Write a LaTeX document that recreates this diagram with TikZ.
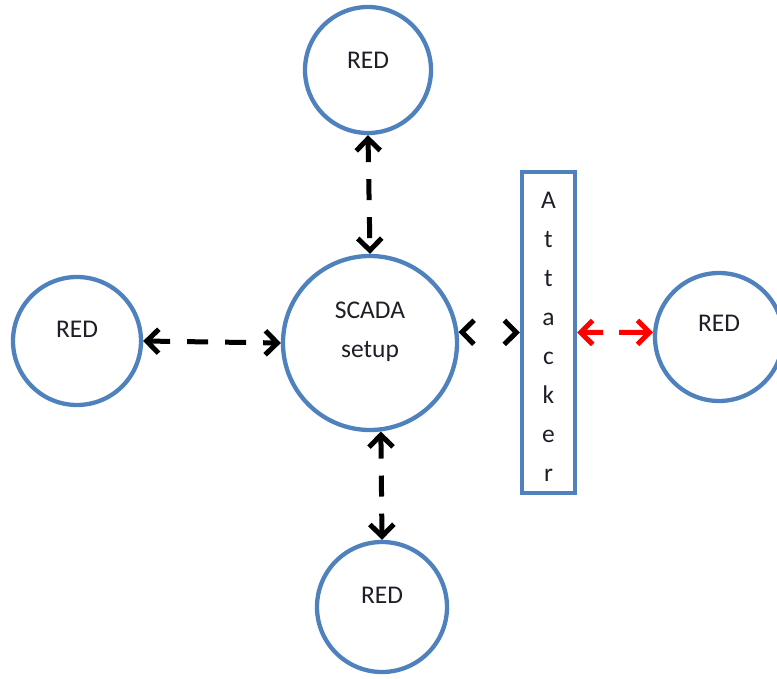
\documentclass[tikz,border=0pt]{standalone}
\usepackage{fontspec}
\setmainfont{Carlito}
\usetikzlibrary{arrows.meta}
\definecolor{shapeblue}{RGB}{79,129,189}
\definecolor{inktext}{RGB}{30,30,40}
\tikzset{
  ring/.style={circle, draw=shapeblue, line width=4.3pt, inner sep=0pt, minimum size=#1},
  boxshape/.style={rectangle, draw=shapeblue, line width=4.3pt, inner sep=0pt,
    minimum width=53pt, minimum height=321pt},
  lbl/.style={font=\fontsize{25.5}{39}\selectfont, text=inktext, align=center, inner sep=0pt},
  barb/.tip={Straight Barb[length=12pt, width=24pt]},
  link/.style={line width=5pt, dash pattern=on 21pt off 17pt, barb-barb},
}
\begin{document}
\begin{tikzpicture}[x=1pt, y=-1pt]
  \useasboundingbox (0,0) rectangle (777,679);
  \clip (0,0) rectangle (777,679);

  % stations around the central setup
  \node[ring=126pt, label={[lbl, yshift=10pt]center:RED}] (top) at (368,70) {};
  \node[ring=128pt, label={[lbl, yshift=12pt]center:RED}] (left) at (77,341) {};
  \node[ring=130pt, label={[lbl, yshift=12pt]center:RED}] (bottom) at (382,607) {};
  \node[ring=128pt, label={[lbl, yshift=14pt]center:RED}] (right) at (719,337) {};

  % central SCADA setup
  \node[ring=174pt, label={[lbl, yshift=11pt]center:SCADA\\setup}] (scada) at (370,343) {};

  % attacker sitting on the link
  \node[boxshape, label={[lbl, yshift=-4pt]center:A\\t\\t\\a\\c\\k\\e\\r}] (att) at (548.5,332.5) {};

  % links
  \draw[link] (top.south) -- (scada.north);
  \draw[link] (left.east) -- (scada.west);
  \draw[link] (scada.-83) -- (bottom.north);
  \draw[link, dash pattern=on 0pt off 100pt] (scada.7) -- (att.west);
  \draw[link, red, dash pattern=on 20pt off 16pt on 40pt] (att.east) -- (right.176);
\end{tikzpicture}
\end{document}
